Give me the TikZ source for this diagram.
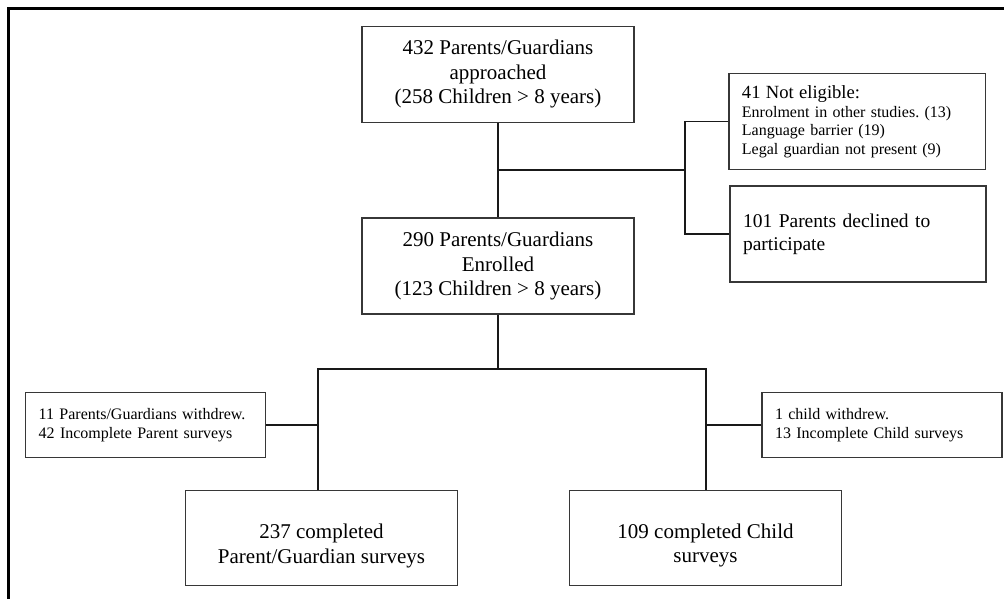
\documentclass[tikz,border=0pt]{standalone}
\usepackage{fontspec}
\setmainfont{Liberation Serif}
\usepackage{tikz}
\usetikzlibrary{positioning,calc}
\frenchspacing
\definecolor{boxline}{RGB}{55,55,55}
\definecolor{linkc}{RGB}{25,25,25}
\tikzset{
  stage/.style={draw=boxline, line width=1.3pt, align=center, inner sep=0pt,
                minimum width=272pt, minimum height=96pt,
                font=\fontsize{21}{24.5}\selectfont},
  exclbox/.style={draw=boxline, line width=1.3pt, align=left, inner xsep=13pt,
                  inner ysep=0pt, minimum height=96pt,
                  font=\fontsize{16}{18.5}\selectfont},
  link/.style={line width=1.6pt, linkc},
  frameline/.style={line width=3pt, black}
}

\begin{document}
\begin{tikzpicture}[x=1pt, y=-1pt]
\useasboundingbox (0,0) rectangle (1004,599);
% frame
\draw[frameline] (1004,9) -- (8,9) -- (8,599);
% main flow
\node (appr) [stage] at (498,74.3) {432 Parents/Guardians\\approached\\(258 Children > 8 years)};
\node (enrol) [stage] at (498,266) {290 Parents/Guardians\\Enrolled\\(123 Children > 8 years)};
\node (donepar) [stage, minimum height=95pt] at (321.5,538.3) {\rule{0pt}{30pt}237 completed\\Parent/Guardian surveys};
\node (donechild) [stage, minimum height=95pt] at (705.5,538) {\rule{0pt}{30pt}109 completed Child\\surveys};
% exclusions
\node (inelig) [exclbox, text width=230.7pt] at (857.3,121.7) {{\fontsize{18.6}{19.4}\selectfont 41 Not eligible:}\\Enrolment in other studies. (13)\\Language barrier (19)\\Legal guardian not present (9)};
\node (declined) [exclbox, text width=230pt, font=\fontsize{19.5}{23}\selectfont] at (858,234) {101 Parents declined to\\participate};
\node (wdpar) [exclbox, text width=214pt, minimum height=65pt] at (145.7,425.2) {11 Parents/Guardians withdrew.\\42 Incomplete Parent surveys};
\node (wdchild) [exclbox, text width=214pt, minimum height=65pt] at (882,425.2) {1 child withdrew.\\13 Incomplete Child surveys};
% connectors
\coordinate (split) at ($(appr.south)!0.5!(enrol.north)$);
\coordinate (bracket) at (685,0);
\coordinate (forkL) at (318,369);
\coordinate (forkR) at (706,369);
\draw[link] (appr.south) -- (appr.south |- enrol.north);
\draw[link] (split) -- (bracket |- split);
\draw[link] (inelig.west) -- (inelig.west -| bracket) -- (declined.west -| bracket) -- (declined.west);
\draw[link] (enrol.south) -- (enrol.south |- forkL);
\draw[link] (forkL |- donepar.north) -- (forkL) -- (forkR) -- (forkR |- donechild.north);
\draw[link] (wdpar.east) -- (wdpar.east -| forkL);
\draw[link] (wdchild.west) -- (wdchild.west -| forkR);
\end{tikzpicture}
\end{document}
